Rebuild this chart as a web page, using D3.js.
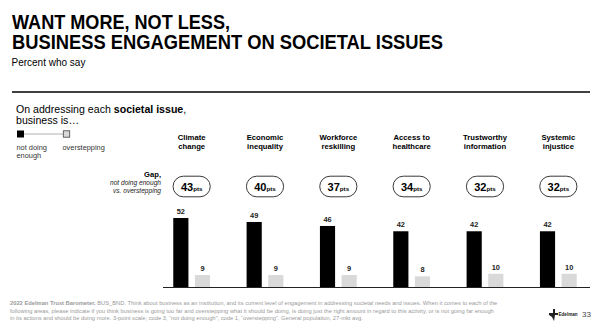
<!DOCTYPE html>
<html>
<head>
<meta charset="utf-8">
<script src="https://cdn.jsdelivr.net/npm/d3@7"></script>
<style>
  body { margin: 0; background: #fff; }
  svg { display: block; font-family: "Liberation Sans", Arial, sans-serif; }
</style>
</head>
<body>
<div id="chart"></div>
<script>
// issues, two lines each for the column headers
var issues = ["Climate change", "Economic inequality", "Workforce reskilling",
              "Access to healthcare", "Trustworthy information", "Systemic injustice"];
var issueLines = [["Climate", "change"], ["Economic", "inequality"], ["Workforce", "reskilling"],
                  ["Access to", "healthcare"], ["Trustworthy", "information"], ["Systemic", "injustice"]];
var notEnough = [52, 49, 46, 42, 42, 42];
var overstepping = [9, 9, 9, 8, 10, 10];
var seriesKeys = ["notEnough", "overstepping"];
var seriesColors = ["#000000", "#d9d9d9"];

var footerLines = [
  ["2022 Edelman Trust Barometer.", " BUS_BND. Think about business as an institution, and its current level of engagement in addressing societal needs and issues. When it comes to each of the"],
  ["", "following areas, please indicate if you think business is going too far and overstepping what it should be doing, is doing just the right amount in regard to this activity, or is not going far enough"],
  ["", "in its actions and should be doing more. 3-point scale; code 3, \u201cnot doing enough\u201d; code 1, \u201coverstepping\u201d. General population, 27-mkt avg."]
];

var W = 600, H = 333;
var svg = d3.select("#chart").append("svg")
    .attr("width", W)
    .attr("height", H);

// title block
var title = svg.append("g")
    .attr("font-weight", "bold")
    .attr("font-size", 19.4)
    .attr("fill", "#000");
title.append("text").attr("x", 12).attr("y", 28.5)
    .attr("textLength", 218).attr("lengthAdjust", "spacingAndGlyphs")
    .text("WANT MORE, NOT LESS,");
title.append("text").attr("x", 12).attr("y", 48.5)
    .attr("textLength", 431).attr("lengthAdjust", "spacingAndGlyphs")
    .text("BUSINESS ENGAGEMENT ON SOCIETAL ISSUES");

svg.append("text")
    .attr("x", 11.5).attr("y", 66)
    .attr("font-size", 10)
    .attr("fill", "#000")
    .text("Percent who say");

svg.append("line")
    .attr("x1", 12).attr("x2", 590)
    .attr("y1", 92).attr("y2", 92)
    .attr("stroke", "#000").attr("stroke-width", 1.3);

// question heading
var q = svg.append("text")
    .attr("x", 16).attr("y", 113)
    .attr("font-size", 10.6)
    .attr("fill", "#000");
q.append("tspan").text("On addressing each ");
q.append("tspan").attr("font-weight", "bold").text("societal issue");
q.append("tspan").text(",");
svg.append("text")
    .attr("x", 16).attr("y", 124)
    .attr("font-size", 10.6)
    .attr("fill", "#000")
    .text("business is\u2026");

// legend
var legend = svg.append("g");
legend.append("line")
    .attr("x1", 24).attr("x2", 63)
    .attr("y1", 134).attr("y2", 134)
    .attr("stroke", "#999").attr("stroke-width", 0.8);
legend.append("rect")
    .attr("x", 17).attr("y", 130.5).attr("width", 7).attr("height", 7)
    .attr("fill", seriesColors[0]);
legend.append("rect")
    .attr("x", 63.3).attr("y", 130.8).attr("width", 6.4).attr("height", 6.4)
    .attr("fill", seriesColors[1]).attr("stroke", "#444").attr("stroke-width", 0.8);
legend.append("text")
    .attr("x", 16.5).attr("y", 149.5)
    .attr("font-size", 7.4).attr("fill", "#333")
    .text("not doing");
legend.append("text")
    .attr("x", 16.5).attr("y", 158)
    .attr("font-size", 7.4).attr("fill", "#333")
    .text("enough");
legend.append("text")
    .attr("x", 62.5).attr("y", 149.5)
    .attr("font-size", 7.4).attr("fill", "#333")
    .text("overstepping");

// gap caption
var gapLabel = svg.append("g").attr("text-anchor", "end");
gapLabel.append("text")
    .attr("x", 161).attr("y", 177)
    .attr("font-size", 7.6).attr("font-weight", "bold")
    .text("Gap,");
gapLabel.append("text")
    .attr("x", 161).attr("y", 184.8)
    .attr("font-size", 6.6).attr("font-style", "italic").attr("fill", "#222")
    .text("not doing enough");
gapLabel.append("text")
    .attr("x", 161).attr("y", 193)
    .attr("font-size", 6.6).attr("font-style", "italic").attr("fill", "#222")
    .text("vs. overstepping");

// scales
var x = d3.scaleBand()
    .domain(issues)
    .range([155, 595]);
var xInner = d3.scaleBand()
    .domain(seriesKeys)
    .range([-18.4, 18.4])
    .paddingInner(0.3);
var y = d3.scaleLinear()
    .domain([0, 52])
    .range([287, 218]);

var rows = issues.map(function(d, i) {
  return {
    issue: d,
    lines: issueLines[i],
    values: [
      {key: "notEnough", value: notEnough[i]},
      {key: "overstepping", value: overstepping[i]}
    ],
    gap: notEnough[i] - overstepping[i]
  };
});

var groups = svg.append("g")
  .selectAll("g")
  .data(rows)
  .enter()
  .append("g")
    .attr("transform", d => "translate(" + (x(d.issue) + x.bandwidth() / 2) + ",0)");

// column headers
groups.append("text")
    .attr("text-anchor", "middle")
    .attr("font-size", 7.7)
    .attr("font-weight", "bold")
    .attr("fill", "#000")
  .selectAll("tspan")
  .data(d => d.lines)
  .enter()
  .append("tspan")
    .attr("x", 0)
    .attr("y", (d, i) => 139.5 + i * 9.3)
    .text(d => d);

// gap pills
groups.append("rect")
    .attr("x", -18.6).attr("y", 176.2)
    .attr("width", 37.2).attr("height", 20.6)
    .attr("rx", 10.3)
    .attr("fill", "#fff")
    .attr("stroke", "#222").attr("stroke-width", 0.9);
var pillText = groups.append("text")
    .attr("text-anchor", "middle")
    .attr("y", 190.5)
    .attr("font-weight", "bold")
    .attr("fill", "#000");
pillText.append("tspan").attr("font-size", 11).text(d => d.gap);
pillText.append("tspan").attr("font-size", 6.2).text("pts");

// bars
groups.selectAll("rect.bar")
  .data(d => d.values)
  .enter()
  .append("rect")
    .attr("class", "bar")
    .attr("x", d => xInner(d.key))
    .attr("width", xInner.bandwidth())
    .attr("y", d => y(d.value))
    .attr("height", d => y(0) - y(d.value))
    .attr("fill", (d, i) => seriesColors[i]);

groups.selectAll("text.val")
  .data(d => d.values)
  .enter()
  .append("text")
    .attr("class", "val")
    .attr("text-anchor", "middle")
    .attr("x", d => xInner(d.key) + xInner.bandwidth() / 2)
    .attr("y", d => y(d.value) - 4)
    .attr("font-size", 7.4)
    .attr("font-weight", "bold")
    .attr("fill", "#222")
    .text(d => d.value);

// baseline
svg.append("line")
    .attr("x1", 163).attr("x2", 590)
    .attr("y1", y(0) + 0.5).attr("y2", y(0) + 0.5)
    .attr("stroke", "#222").attr("stroke-width", 1.2);

// footer note
var foot = svg.append("g").attr("fill", "#9a9a9a").attr("font-size", 5.75);
foot.selectAll("text")
  .data(footerLines)
  .enter()
  .append("text")
    .attr("x", 10)
    .attr("y", (d, i) => 305 + i * 7.6)
    .each(function(d) {
      var t = d3.select(this);
      if (d[0]) t.append("tspan").attr("font-weight", "bold").text(d[0]);
      t.append("tspan").text(d[1]);
    });

// logo mark and page number
var logo = svg.append("g").attr("transform", "translate(549,309)");
logo.append("path")
    .attr("d", "M0,4 L4,4 L4,0 L6,0 L6,4 L9,4 L9,6 L6,6 L5,12 L3,8 L0,6 Z")
    .attr("fill", "#222");
logo.append("text")
    .attr("x", 9.5).attr("y", 6.5)
    .attr("font-size", 4.6).attr("font-weight", "bold").attr("fill", "#222")
    .text("Edelman");
svg.append("text")
    .attr("x", 591).attr("y", 317)
    .attr("text-anchor", "end")
    .attr("font-size", 8).attr("fill", "#444")
    .text("33");
</script>
</body>
</html>
